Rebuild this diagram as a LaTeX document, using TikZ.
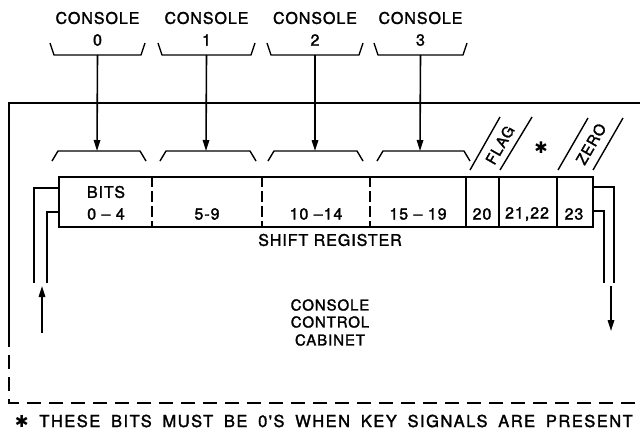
\documentclass[tikz,border=0pt]{standalone}
\usepackage{fontspec}
\setmainfont{TeX Gyre Heros}[LetterSpace=6, FakeBold=1.8]
\newfontfamily\notefont{TeX Gyre Heros}[LetterSpace=9, FakeBold=1.8]
\newfontfamily\symfont{DejaVu Sans}
\usetikzlibrary{arrows.meta}

\begin{document}
\begin{tikzpicture}[x=1pt,y=-1pt,
  line width=1.5pt,
  wire/.style={line width=1.6pt, line join=miter},
  sig/.style={line width=1.6pt, -{Triangle[width=6.5pt,length=11pt]}},
  bracket/.style={line width=1.4pt, line join=round},
  cellsep/.style={line width=1.4pt, dash pattern=on 11pt off 4pt},
  lbl/.style={font=\fontsize{16}{19}\selectfont, inner sep=0pt, align=center},
  smalllbl/.style={font=\fontsize{15}{18}\selectfont, inner sep=0pt, align=center},
  tilted/.style={font=\fontsize{15}{18}\selectfont, inner sep=0pt, rotate=60},
  cabinet/.style={line width=1.6pt},
  cabinetdash/.style={line width=1.6pt, dash pattern=on 14pt off 8pt}]

\useasboundingbox (0,0) rectangle (640,432);

% ---- consoles -------------------------------------------------------
\foreach \i/\l/\r in {0/50/145, 1/158/255, 2/267/363, 3/374/467}{
  \pgfmathsetmacro{\c}{(\l+\r)/2}
  \node[lbl] (con\i) at (\c,18) {CONSOLE};
  \node[lbl] (num\i) at (\c,40) {\i};
  \draw[bracket] (\l,43) -- (\l+4,55) -- (\r-4,55) -- (\r,43);
  \coordinate (out\i) at (\c,55);
}

% ---- cabinet outline ------------------------------------------------
\coordinate (cabTL) at (9,103);
\coordinate (cabTR) at (640,103);
\coordinate (cabL) at (9,333);
\coordinate (cabBL) at (9,403);
\coordinate (cabBR) at (640,403);
\draw[cabinet] (cabTR) -- (cabTL) -- (cabL);
\draw[cabinetdash] (cabL) -- (cabBL) -- (cabBR);

% ---- register field brackets ----------------------------------------
\foreach \i/\l/\r in {0/52/146, 1/160/256, 2/268/363, 3/377/470}{
  \draw[bracket] (\l,161) -- (\l+6,151) -- (\r-6,151) -- (\r,161);
}
\coordinate (in0) at (97,151);
\coordinate (in1) at (206,151);
\coordinate (in2) at (315,151);
\coordinate (in3) at (420,151);
\foreach \i in {0,1,2,3}{
  \draw[sig] (out\i) -- (in\i);
}

% ---- shift register -------------------------------------------------
\node[draw, line width=1.6pt, minimum width=534pt, minimum height=50pt,
      inner sep=0pt, anchor=north west] (reg) at (58,176) {};
\foreach \x in {152,262,370}{
  \draw[cellsep] (\x,176) -- (\x,226);
}
\foreach \x in {466,499,557}{
  \draw[line width=1.4pt] (\x,176) -- (\x,226);
}
\node[lbl] (bits) at (106,192) {BITS};
\node[lbl] (f0) at (106,214) {0 -- 4};
\node[lbl] (f1) at (207,214) {5-9};
\node[lbl] (f2) at (316,214) {10 --14};
\node[lbl] (f3) at (418,214) {15 -- 19};
\node[lbl] (b20) at (482,214) {20};
\node[lbl] (b21) at (527,214) {21,22};
\node[lbl] (b23) at (574,214) {23};
\node[lbl] (regname) at (330,240) {SHIFT REGISTER};

% ---- FLAG / ZERO tags -------------------------------------------------
\draw[line width=1.4pt] (470,170) -- (500,117);
\draw[line width=1.4pt] (500,170) -- (532,117);
\node[tilted] (flag) at (500,145) {FLAG};
\node[inner sep=0pt, font=\symfont\fontsize{16}{16}\selectfont] (star) at (541,148) {✱};
\draw[line width=1.4pt] (558,170) -- (588,118);
\draw[line width=1.4pt] (593,170) -- (623,118);
\node[tilted] (zero) at (591,144) {ZERO};

% ---- key signal wiring ----------------------------------------------
\coordinate (inA) at (58,188);
\coordinate (inB) at (58,212);
\coordinate (inAend) at (34,283);
\coordinate (inBend) at (47,283);
\draw[wire] (inA) -| (inAend);
\draw[wire] (inB) -| (inBend);
\coordinate (keyTail) at (42,333);
\coordinate (keyTip) at (42,286);
\draw[sig] (keyTail) -- (keyTip);

\coordinate (outA) at (592,187);
\coordinate (outB) at (592,211);
\coordinate (outAend) at (614,283);
\coordinate (outBend) at (604,283);
\draw[wire] (outA) -| (outAend);
\draw[wire] (outB) -| (outBend);
\coordinate (dispTail) at (611,286);
\coordinate (dispTip) at (611,331);
\draw[sig] (dispTail) -- (dispTip);

% ---- cabinet name and footnote ----------------------------------------
\node[smalllbl] (cab1) at (330,305) {CONSOLE};
\node[smalllbl] (cab2) at (330,322) {CONTROL};
\node[smalllbl] (cab3) at (330,340) {CABINET};

\node[inner sep=0pt, anchor=west, font=\notefont\fontsize{16.5}{18}\selectfont] (note) at (14,421)
  {\makebox[618pt][s]{{\symfont ✱} THESE BITS MUST BE 0'S WHEN KEY SIGNALS ARE PRESENT}};
\end{tikzpicture}
\end{document}
